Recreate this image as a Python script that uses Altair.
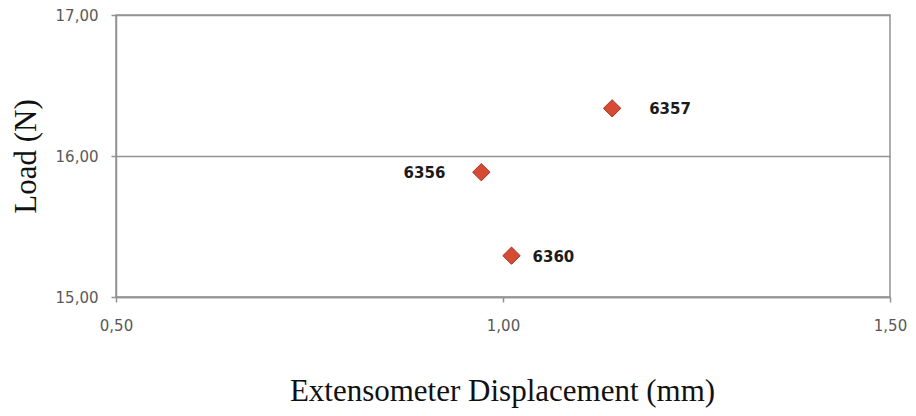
import altair as alt
import pandas as pd

# Data
specimens = ["6356", "6357", "6360"]
displacement_mm = [0.972, 1.141, 1.011]
load_n = [15.885, 16.338, 15.293]

x_ticks = [0.5, 1.0, 1.5]
y_ticks = [15.0, 16.0, 17.0]

df = pd.DataFrame({"specimen": specimens, "disp": displacement_mm, "load": load_n})

label_expr = "replace(format(datum.value, '.2f'), '.', ',')"
line_gray = "#939393"

x_enc = alt.X(
    "disp:Q",
    scale=alt.Scale(domain=[0.5, 1.5], nice=False, zero=False),
    axis=alt.Axis(
        title="Extensometer Displacement (mm)",
        values=x_ticks,
        labelExpr=label_expr,
        grid=False,
        domainColor=line_gray,
        domainWidth=1.5,
        tickColor=line_gray,
        tickWidth=1.5,
        tickSize=5,
        labelPadding=16,
        labelFont="DejaVu Sans",
        labelFontSize=15,
        labelColor="#595959",
        labelFlush=False,
        titleFont="Liberation Serif",
        titleFontSize=31,
        titleFontWeight="normal",
        titleColor="#111111",
        titleX=386,
        titleY=103,
        titleAlign="center",
        titleBaseline="alphabetic",
    ),
)
y_enc = alt.Y(
    "load:Q",
    scale=alt.Scale(domain=[15, 17], nice=False, zero=False),
    axis=alt.Axis(
        title="Load (N)",
        values=y_ticks,
        labelExpr=label_expr,
        grid=True,
        gridColor=line_gray,
        gridWidth=1.5,
        domainColor=line_gray,
        domainWidth=1.5,
        tickColor=line_gray,
        tickWidth=1.5,
        tickSize=5,
        labelPadding=13,
        labelFont="DejaVu Sans",
        labelFontSize=15,
        labelColor="#595959",
        labelFlush=False,
        titleFont="Liberation Serif",
        titleFontSize=31,
        titleFontWeight="normal",
        titleColor="#111111",
        titleAngle=270,
        titleX=-81,
        titleY=141,
        titleAlign="center",
        titleBaseline="alphabetic",
    ),
)

base = alt.Chart(df)

points = base.mark_point(
    shape="diamond", filled=True, size=300, fill="#d64b33", stroke="#a8321f", strokeWidth=1, opacity=1
).encode(x=x_enc, y=y_enc)


def label_layer(name, dx, align):
    return (
        base.transform_filter(alt.datum.specimen == name)
        .mark_text(
            dx=dx, dy=1, align=align, baseline="middle",
            font="DejaVu Sans", fontSize=15, fontWeight="bold", color="#1a1a1a",
        )
        .encode(x="disp:Q", y="load:Q", text="specimen:N")
    )


labels = label_layer("6357", 37, "left") + label_layer("6360", 21, "left") + label_layer("6356", -36, "right")

chart = (
    alt.layer(points, labels)
    .properties(
        width=774,
        height=282,
        autosize=alt.AutoSizeParams(type="none"),
        padding={"left": 108, "top": 7, "right": 18, "bottom": 111},
        background="white",
    )
    .configure_view(stroke=line_gray, strokeWidth=1.5)
)

chart.save("out.html", embed_options={"renderer": "svg", "actions": False})
